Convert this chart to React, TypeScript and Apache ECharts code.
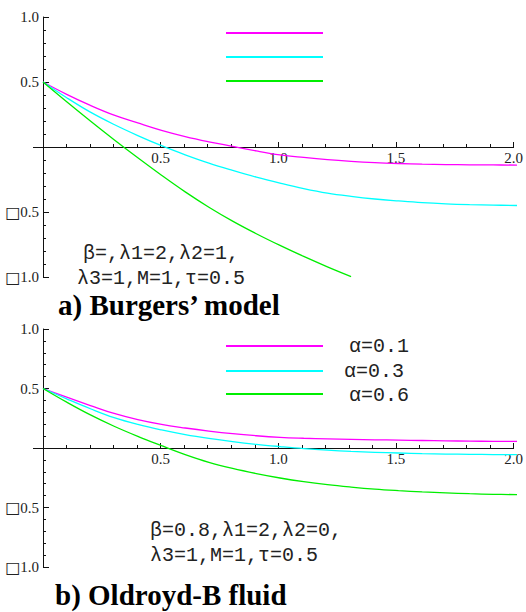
import React, { useEffect, useRef } from "react";
import * as echarts from "echarts";

const xs = [0, 0.1, 0.2, 0.3, 0.4, 0.5, 0.6, 0.7, 0.8, 0.9, 1.0, 1.1, 1.2, 1.3, 1.4, 1.5, 1.6, 1.7, 1.8, 1.9, 2.0];

// a) Burgers' model
const magentaA = [0.5, 0.405, 0.32, 0.245, 0.185, 0.128, 0.08, 0.04, 0.005, -0.03, -0.06, -0.08, -0.097, -0.11, -0.12, -0.127, -0.132, -0.135, -0.137, -0.138, -0.139];
const cyanA = [0.5, 0.379, 0.268, 0.173, 0.088, 0.01, -0.06, -0.124, -0.18, -0.232, -0.278, -0.32, -0.355, -0.38, -0.4, -0.415, -0.428, -0.437, -0.443, -0.447, -0.45];
const greenA = [0.5, 0.348, 0.2, 0.056, -0.083, -0.217, -0.345, -0.463, -0.57, -0.667, -0.757, -0.842, -0.922, -0.997];

// b) Oldroyd-B fluid
const magentaB = [0.5, 0.427, 0.357, 0.29, 0.238, 0.198, 0.168, 0.142, 0.12, 0.103, 0.09, 0.082, 0.076, 0.072, 0.069, 0.066, 0.063, 0.06, 0.058, 0.056, 0.055];
const cyanB = [0.5, 0.413, 0.33, 0.255, 0.198, 0.152, 0.113, 0.081, 0.054, 0.031, 0.012, -0.005, -0.018, -0.028, -0.036, -0.042, -0.047, -0.051, -0.053, -0.055, -0.056];
const greenB = [0.5, 0.385, 0.278, 0.183, 0.098, 0.02, -0.055, -0.12, -0.172, -0.215, -0.252, -0.283, -0.308, -0.328, -0.345, -0.358, -0.369, -0.377, -0.384, -0.389, -0.392];

const legendLabelsB = ["α=0.1", "α=0.3", "α=0.6"];
const annotA = ["β=,λ1=2,λ2=1,", "λ3=1,M=1,τ=0.5"];
const annotB = ["β=0.8,λ1=2,λ2=0,", "λ3=1,M=1,τ=0.5"];
const titles = ["a) Burgers’ model", "b) Oldroyd-B fluid"];

const colors = ["#ff00ff", "#00ffff", "#00ee00"];

const pairs = (ys: number[]) => ys.map((y, i) => [xs[i], y]);

export default function App() {
  const ref = useRef<HTMLDivElement>(null);
  useEffect(() => {
    if (!ref.current) return;
    const chart = echarts.init(ref.current, null, { renderer: "svg" });
    const axisColor = "#111";
    const tickFont = { fontFamily: "Liberation Serif", fontSize: 15, color: "#222" };
    const mkXData = (gi: number) => ({
      type: "value",
      gridIndex: gi,
      min: 0,
      max: 2,
      axisLine: { show: false },
      axisTick: { show: false },
      minorTick: { show: false },
      axisLabel: { show: false },
      splitLine: { show: false },
    });
    const mkXAxis = (gi: number) => ({
      type: "value",
      gridIndex: gi,
      min: 0,
      max: 2,
      interval: 0.5,
      position: "bottom",
      axisLine: { show: true, onZero: false, lineStyle: { color: axisColor, width: 1 } },
      axisTick: { show: true, inside: true, length: 5, lineStyle: { color: axisColor, width: 1 } },
      minorTick: { show: true, splitNumber: 5, length: 3, lineStyle: { color: axisColor, width: 1 } },
      splitLine: { show: false },
      minorSplitLine: { show: false },
      axisLabel: {
        show: true,
        ...tickFont,
        margin: 3,
        formatter: (v: number) => (v === 0 ? "" : v.toFixed(1)),
      },
    });
    const mkY = (gi: number) => ({
      type: "value",
      gridIndex: gi,
      min: -1,
      max: 1,
      interval: 0.5,
      axisLine: { show: true, lineStyle: { color: axisColor, width: 1 } },
      axisTick: { show: true, inside: true, length: 6, lineStyle: { color: axisColor, width: 1 } },
      minorTick: { show: true, splitNumber: 5, length: 3, lineStyle: { color: axisColor, width: 1 } },
      splitLine: { show: false },
      minorSplitLine: { show: false },
      axisLabel: {
        show: true,
        ...tickFont,
        margin: 4,
        formatter: (v: number) =>
          v === 0 ? "" : v < 0 ? "{b|□}{n|" + Math.abs(v).toFixed(1) + "}" : v.toFixed(1),
        rich: {
          b: { fontFamily: "DejaVu Sans", fontSize: 16, color: "#222" },
          n: { fontFamily: "Liberation Serif", fontSize: 15, color: "#222" },
        },
      },
    });
    const mkYHidden = (gi: number) => ({
      type: "value",
      gridIndex: gi,
      min: 0,
      max: 1,
      axisLine: { show: false },
      axisTick: { show: false },
      axisLabel: { show: false },
      splitLine: { show: false },
    });
    const lineSeries = (gi: number, ys: number[], c: string) => ({
      type: "line",
      xAxisIndex: gi,
      yAxisIndex: gi,
      data: pairs(ys),
      showSymbol: false,
      smooth: 0.4,
      lineStyle: { color: c, width: 1.3 },
      silent: true,
    });
    const legendLines = (ys: number[]) =>
      ys.map((y, i) => ({
        type: "line",
        shape: { x1: 226, y1: y, x2: 323, y2: y },
        style: { stroke: colors[i], lineWidth: 2 },
      }));
    const monoText = (x: number, y: number, t: string) => ({
      type: "text",
      x,
      y,
      style: {
        text: t,
        fontFamily: "Liberation Mono",
        fontSize: 20,
        fill: "#222",
        textVerticalAlign: "middle",
        verticalAlign: "middle",
      },
    });
    const titleText = (x: number, y: number, t: string) => ({
      type: "text",
      x,
      y,
      style: {
        text: t,
        fontFamily: "Liberation Serif",
        fontWeight: "bold",
        fontSize: 29,
        fill: "#000",
        verticalAlign: "middle",
        textVerticalAlign: "middle",
      },
    });
    chart.setOption({
      animation: false,
      grid: [
        { left: 43, top: 17, width: 474, height: 260 },
        { left: 43, top: 329, width: 474, height: 238 },
        { left: 43, top: 17, width: 474, height: 130 },
        { left: 43, top: 329, width: 474, height: 119 },
      ],
      xAxis: [mkXData(0), mkXData(1), mkXAxis(2), mkXAxis(3)],
      yAxis: [mkY(0), mkY(1), mkYHidden(2), mkYHidden(3)],
      series: [
        lineSeries(0, magentaA, colors[0]),
        lineSeries(0, cyanA, colors[1]),
        lineSeries(0, greenA, colors[2]),
        lineSeries(1, magentaB, colors[0]),
        lineSeries(1, cyanB, colors[1]),
        lineSeries(1, greenB, colors[2]),
      ],
      graphic: [
        { type: "line", shape: { x1: 33, y1: 147.5, x2: 43, y2: 147.5 }, style: { stroke: axisColor, lineWidth: 1 } },
        { type: "line", shape: { x1: 33, y1: 448.5, x2: 43, y2: 448.5 }, style: { stroke: axisColor, lineWidth: 1 } },
        ...legendLines([33, 57, 81]),
        ...legendLines([346, 371, 394]),
        monoText(349, 346, legendLabelsB[0]),
        monoText(344, 371, legendLabelsB[1]),
        monoText(349, 395, legendLabelsB[2]),
        monoText(83, 253, annotA[0]),
        monoText(77, 278, annotA[1]),
        monoText(150, 530, annotB[0]),
        monoText(150, 555, annotB[1]),
        titleText(58, 305, titles[0]),
        titleText(55, 595, titles[1]),
      ],
    });
    return () => chart.dispose();
  }, []);
  return (
    <div
      ref={ref}
      style={{ position: "absolute", left: 0, top: 0, width: 526, height: 612, background: "#fff" }}
    />
  );
}
